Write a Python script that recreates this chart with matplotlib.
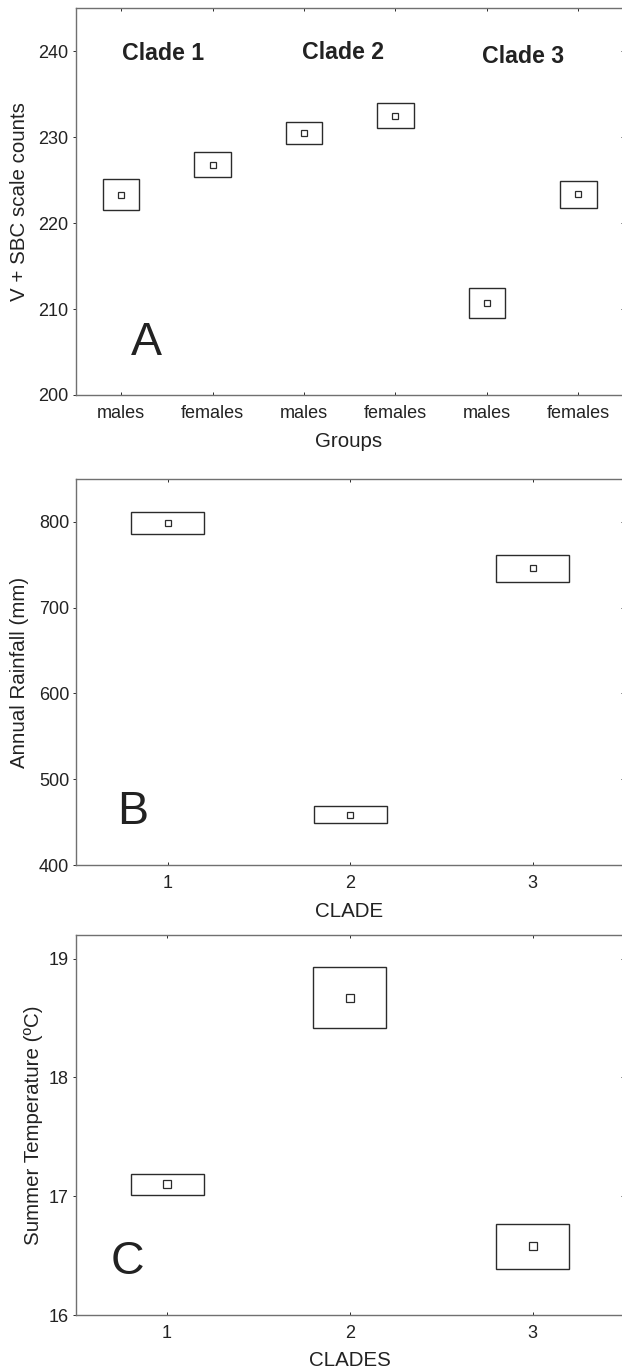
#!/usr/bin/env python3
# encoding: utf-8

import matplotlib
matplotlib.use('Agg')
import matplotlib.pyplot as plt

plt.rcParams['font.family'] = ['Liberation Sans', 'DejaVu Sans']

# ---- data ----
groups_a = ['males', 'females', 'males', 'females', 'males', 'females']
scale_mean = [223.3, 226.7, 230.5, 232.4, 210.7, 223.4]
scale_low = [221.5, 225.4, 229.2, 231.0, 208.9, 221.7]
scale_high = [225.1, 228.2, 231.8, 233.9, 212.5, 224.9]
clade_names = ['Clade 1', 'Clade 2', 'Clade 3']

clades = [1, 2, 3]
rain_mean = [798.6, 458.6, 745.8]
rain_low = [785.4, 449.0, 730.5]
rain_high = [811.1, 468.3, 761.0]

temp_mean = [17.10, 18.67, 16.58]
temp_low = [17.01, 18.42, 16.39]
temp_high = [17.19, 18.93, 16.77]

# ---- layout helpers (pixel coords of the 622x1370 picture) ----
W, H = 622, 1370
fig = plt.figure(figsize=(W / 100, H / 100), dpi=100)


def box(left, top, right, bottom):
    return [left / W, 1 - bottom / H, (right - left) / W, (bottom - top) / H]


def px(x, y):
    return x / W, 1 - y / H


SPINE = '#707070'
INK = '#2b2b2b'


def panel(rect, x, means, lows, highs, ylim, yticks, msize):
    ax = fig.add_axes(rect)
    heights = [h - l for h, l in zip(highs, lows)]
    ax.bar(x, heights, bottom=lows, width=0.4, fill=False,
           edgecolor=INK, linewidth=1.0)
    ax.plot(x, means, linestyle='none', marker='s', markersize=msize,
            markerfacecolor='white', markeredgecolor=INK, markeredgewidth=0.9)
    ax.set_xlim(0.5, len(x) + 0.5)
    ax.set_ylim(*ylim)
    ax.set_yticks(yticks)
    ax.set_xticks(x)
    for s in ['left', 'bottom', 'top']:
        ax.spines[s].set_color(SPINE)
        ax.spines[s].set_linewidth(1.0)
    ax.spines['right'].set_visible(False)
    ax.tick_params(axis='x', direction='in', top=True, length=2.2, width=0.7,
                   color=INK, labelsize=13, pad=7.5, labelcolor='#222222')
    ax.tick_params(axis='y', direction='out', length=2.2, width=0.7,
                   color=INK, labelsize=13, pad=3, labelcolor='#222222')
    sec = ax.secondary_yaxis('right')
    sec.set_yticks(yticks)
    sec.tick_params(direction='in', length=2.2, width=0.7, color=INK,
                    labelright=False)
    sec.spines['right'].set_visible(False)
    return ax


# ---- panel A ----
ax1 = panel(box(75.5, 8, 624, 395), list(range(1, 7)), scale_mean, scale_low,
            scale_high, (200, 245), [200, 210, 220, 230, 240], 4.0)
ax1.set_xticklabels(groups_a)
ax1.set_xlabel('Groups', fontsize=14.8, color='#222222')
ax1.set_ylabel('V + SBC scale counts', fontsize=14.8, color='#222222')
ax1.xaxis.set_label_coords(*px(349, 432), transform=fig.transFigure)
ax1.yaxis.set_label_coords(*px(29.4, 201.5), transform=fig.transFigure)
for name, (tx, ty) in zip(clade_names, [(162.9, 60), (342.5, 59.3), (523.3, 62.7)]):
    fig.text(*px(tx, ty), name, fontsize=16.7, fontweight='bold',
             ha='center', va='baseline', color='#222222')
fig.text(*px(131, 355), 'A', fontsize=33.5, ha='left', va='baseline',
         color='#222222')

# ---- panel B ----
ax2 = panel(box(76.3, 479, 624, 865), clades, rain_mean, rain_low, rain_high,
            (400, 850), [400, 500, 600, 700, 800], 4.4)
ax2.set_xlabel('CLADE', fontsize=14.8, color='#222222')
ax2.set_ylabel('Annual Rainfall (mm)', fontsize=14.8, color='#222222')
ax2.xaxis.set_label_coords(*px(349.5, 902), transform=fig.transFigure)
ax2.yaxis.set_label_coords(*px(28.8, 672), transform=fig.transFigure)
fig.text(*px(117, 824.3), 'B', fontsize=33.5, ha='left', va='baseline',
         color='#222222')

# ---- panel C ----
ax3 = panel(box(75.7, 935, 624, 1315), clades, temp_mean, temp_low, temp_high,
            (16, 19.2), [16, 17, 18, 19], 5.8)
ax3.set_xlabel('CLADES', fontsize=14.8, color='#222222')
ax3.set_ylabel('Summer Temperature (\u00baC)', fontsize=14.8, color='#222222')
ax3.xaxis.set_label_coords(*px(349.5, 1351), transform=fig.transFigure)
ax3.yaxis.set_label_coords(*px(43.2, 1125), transform=fig.transFigure)
fig.text(*px(110.4, 1274.5), 'C', fontsize=33.5, ha='left', va='baseline',
         color='#222222')

fig.savefig('out.png', dpi=100, facecolor='white')
